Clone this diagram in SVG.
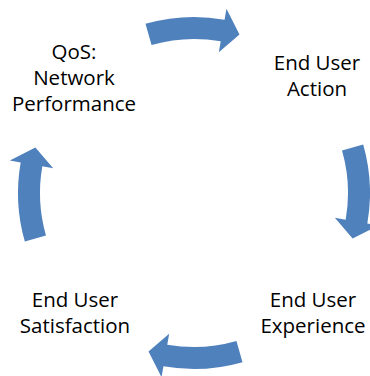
<svg xmlns="http://www.w3.org/2000/svg" width="370" height="376" viewBox="0 0 370 376">
<style>
.lbl{font-family:"Open Sans","Liberation Sans",sans-serif;font-size:20.5px;fill:#000;text-anchor:middle}
.arr{fill:#4F81BD}
</style>
<defs>
<path id="arc" d="M145.49,23.82 A176,176 0 0 1 224.56,19.67 L226.47,8.84 L239.48,34.39 L218.83,52.17 L220.74,41.34 A154,154 0 0 0 151.55,44.97 Z"/>
</defs>
<rect width="370" height="376" fill="#fff"/>
<g id="connectors" class="arr">
<use href="#arc"/>
<use href="#arc" transform="rotate(90 194 193)"/>
<use href="#arc" transform="rotate(180 194 193)"/>
<use href="#arc" transform="rotate(270 194 193)"/>
</g>
<g id="qos"><text class="lbl"><tspan x="74" y="59">QoS:</tspan><tspan x="74" y="85">Network</tspan><tspan x="74" y="111">Performance</tspan></text></g>
<g id="action"><text class="lbl"><tspan x="317" y="70">End User</tspan><tspan x="317" y="96">Action</tspan></text></g>
<g id="experience"><text class="lbl"><tspan x="313" y="307">End User</tspan><tspan x="313" y="333">Experience</tspan></text></g>
<g id="satisfaction"><text class="lbl"><tspan x="75" y="307">End User</tspan><tspan x="75" y="333">Satisfaction</tspan></text></g>
</svg>
